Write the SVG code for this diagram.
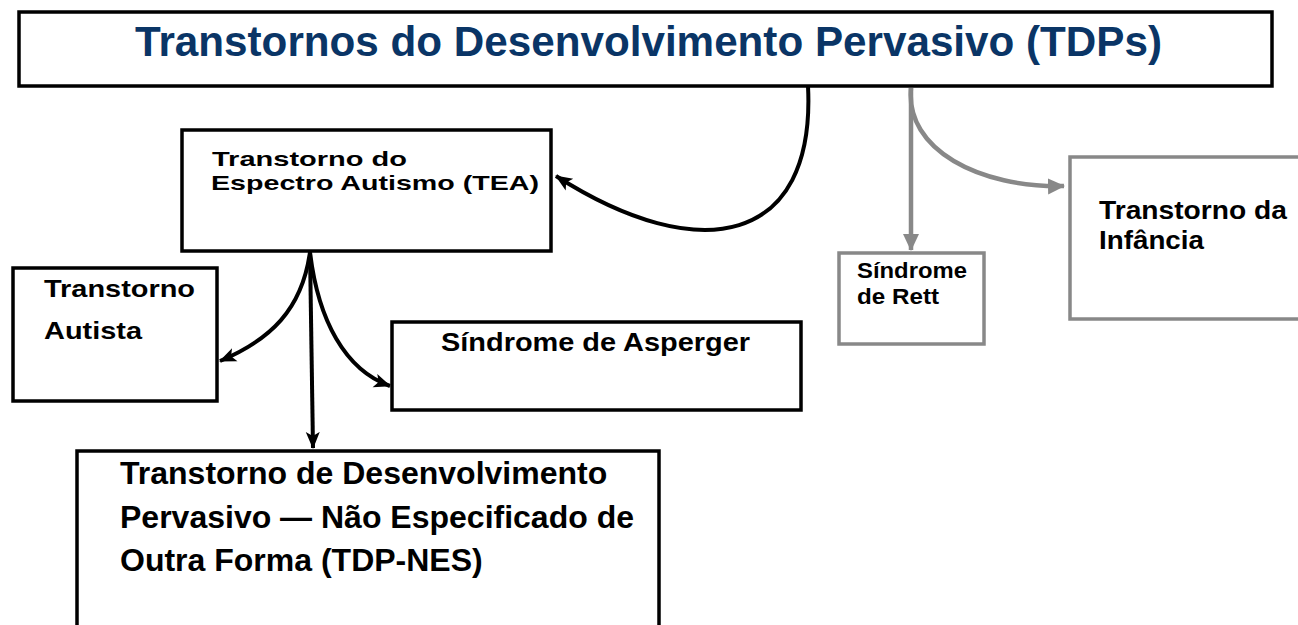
<svg xmlns="http://www.w3.org/2000/svg" width="1298" height="625" viewBox="0 0 1298 625">
<defs>
<style>
.box{fill:#fff;stroke:#000;stroke-width:3.5}
.gbox{fill:#fff;stroke:#888;stroke-width:3.5}
.t{font-family:"Liberation Sans",Arial,sans-serif;font-weight:bold;fill:#000}
.title{font-family:"Liberation Sans",Arial,sans-serif;font-weight:bold;fill:#0a3566;font-size:43px}
.bl{fill:none;stroke:#000;stroke-width:4}
.gl{fill:none;stroke:#888;stroke-width:4.5}
</style>
<marker id="ab" markerUnits="userSpaceOnUse" markerWidth="20" markerHeight="20" refX="16" refY="8" orient="auto" viewBox="0 0 20 16">
<path d="M0,1 L17,8 L0,15 L4,8 Z" fill="#000"/>
</marker>
<marker id="ag" markerUnits="userSpaceOnUse" markerWidth="20" markerHeight="20" refX="16" refY="8" orient="auto" viewBox="0 0 20 16">
<path d="M0,0 L17,8 L0,16 Z" fill="#888"/>
</marker>
</defs>
<rect width="1298" height="625" fill="#fff"/>
<g id="connectors">
<path class="bl" d="M808,86 C816,245 700,268 556,176" marker-end="url(#ab)"/>
<path class="gl" d="M911,88 L911,250" marker-end="url(#ag)"/>
<path class="gl" d="M911,88 C905,150 980,188 1064,186" marker-end="url(#ag)"/>
<path class="bl" d="M310,252 C302,310 270,340 220,361" marker-end="url(#ab)"/>
<path class="bl" d="M310,252 L313,448" marker-end="url(#ab)"/>
<path class="bl" d="M310,252 C318,320 345,370 390,386" marker-end="url(#ab)"/>
</g>
<g id="title">
<rect class="box" x="19" y="12" width="1253" height="74"/>
<text class="title" x="135" y="56" textLength="1027" lengthAdjust="spacingAndGlyphs">Transtornos do Desenvolvimento Pervasivo (TDPs)</text>
</g>
<g id="tea">
<rect class="box" x="182" y="130" width="369" height="121"/>
<text class="t" font-size="21" x="212" y="166" textLength="195" lengthAdjust="spacingAndGlyphs">Transtorno do</text>
<text class="t" font-size="21" x="211" y="190" textLength="328" lengthAdjust="spacingAndGlyphs">Espectro Autismo (TEA)</text>
</g>
<g id="autista">
<rect class="box" x="13" y="268" width="204" height="133"/>
<text class="t" font-size="24" x="44" y="297" textLength="151" lengthAdjust="spacingAndGlyphs">Transtorno</text>
<text class="t" font-size="24" x="44" y="339" textLength="98" lengthAdjust="spacingAndGlyphs">Autista</text>
</g>
<g id="asperger">
<rect class="box" x="392" y="322" width="409" height="88"/>
<text class="t" font-size="26" x="441" y="351" textLength="309" lengthAdjust="spacingAndGlyphs">Síndrome de Asperger</text>
</g>
<g id="tdpnes">
<rect class="box" x="77" y="451" width="582" height="200"/>
<text class="t" font-size="32" x="120" y="484">Transtorno de Desenvolvimento</text>
<text class="t" font-size="32" x="120" y="528">Pervasivo — Não Especificado de</text>
<text class="t" font-size="32" x="120" y="571">Outra Forma (TDP-NES)</text>
</g>
<g id="rett">
<rect class="gbox" x="839" y="253" width="145" height="91"/>
<text class="t" font-size="22" x="857" y="278" textLength="110" lengthAdjust="spacingAndGlyphs">Síndrome</text>
<text class="t" font-size="22" x="857" y="304" textLength="82" lengthAdjust="spacingAndGlyphs">de Rett</text>
</g>
<g id="infancia">
<rect class="gbox" x="1070" y="157" width="240" height="162"/>
<text class="t" font-size="26" x="1099" y="219" textLength="188" lengthAdjust="spacingAndGlyphs">Transtorno da</text>
<text class="t" font-size="26" x="1099" y="249" textLength="105" lengthAdjust="spacingAndGlyphs">Infância</text>
</g>
</svg>
